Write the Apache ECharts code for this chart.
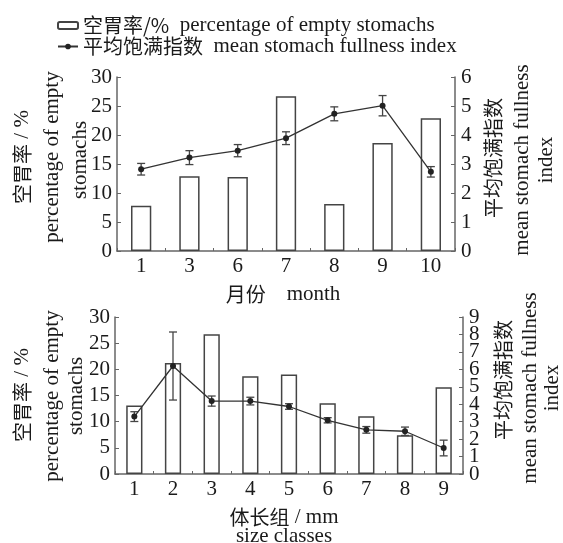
<!DOCTYPE html>
<html>
<head>
<meta charset="utf-8">
<script src="https://cdn.jsdelivr.net/npm/echarts@6/dist/echarts.min.js"></script>
<style>html,body{margin:0;padding:0;background:#fff;}#c{width:563px;height:543px;}</style>
</head>
<body>
<div id="c"></div>
<script>
const monthCats = ['1', '3', '6', '7', '8', '9', '10'];
const monthEmpty = [7.8, 12.9, 12.75, 26.7, 8.1, 18.6, 22.9];
const monthFull = [2.82, 3.22, 3.46, 3.89, 4.73, 5.01, 2.73];
const monthErr = [0.2, 0.24, 0.21, 0.22, 0.24, 0.35, 0.18];

const sizeCats = ['1', '2', '3', '4', '5', '6', '7', '8', '9'];
const sizeEmpty = [13.1, 21.2, 26.7, 18.7, 19.0, 13.5, 11.05, 7.4, 16.6];
const sizeFull = [3.29, 6.19, 4.18, 4.18, 3.87, 3.08, 2.53, 2.45, 1.49];
const sizeErr = [0.28, 1.95, 0.29, 0.22, 0.16, 0.15, 0.19, 0.24, 0.45];

const leftTicks = [0, 30, 5];
const rightTicksTop = [0, 6, 1];
const rightTicksBottom = [0, 9, 1];

const FONT = '"Liberation Serif", "Noto Sans CJK SC", serif';
const CJK = '"Noto Sans CJK SC", serif';
const AX = '#666';
const TXT = '#1a1a1a';
const nameEmpty = '空胃率/%||percentage of empty stomachs';
const nameFull = '平均饱满指数||mean stomach fullness index';

function xAx(gi, cats) {
  return {
    type: 'category', gridIndex: gi, data: cats,
    axisLine: { show: true, lineStyle: { color: AX, width: 1.5 } },
    axisTick: { show: true, inside: true, length: 3, alignWithLabel: false, lineStyle: { color: AX } },
    axisLabel: { fontFamily: FONT, fontSize: 21, color: TXT, margin: 5 },
    splitLine: { show: false }
  };
}
function yAx(gi, t, pos, parity) {
  const ax = {
    type: 'value', gridIndex: gi, position: pos, min: t[0], max: t[1], interval: t[2],
    axisLine: { show: true, lineStyle: { color: AX, width: 1.5 } },
    axisTick: { show: true, inside: true, length: 4, lineStyle: { color: AX } },
    axisLabel: {
      fontFamily: FONT, fontSize: 21, color: TXT, margin: pos === 'left' ? 5 : 6,
      showMinLabel: true, showMaxLabel: true, hideOverlap: false
    },
    splitLine: { show: false }
  };
  if (parity !== undefined) {
    ax.axisLabel.formatter = function (v) { return (v % 2 === parity) ? String(v) : ''; };
    if (parity === 1) {
      ax.axisLine = { show: false };
      ax.axisTick = { show: false };
    }
  }
  return ax;
}
function errSeries(xi, yi, means, errs) {
  return {
    type: 'custom', xAxisIndex: xi, yAxisIndex: yi, z: 4, silent: true,
    data: means.map((m, i) => [i, m, errs[i]]),
    encode: { x: 0, y: 1 },
    renderItem: function (params, api) {
      const i = api.value(0), m = api.value(1), e = api.value(2);
      const hi = api.coord([i, m + e]);
      const lo = api.coord([i, m - e]);
      const w = 4;
      const st = { stroke: '#444', lineWidth: 1.3 };
      return {
        type: 'group', children: [
          { type: 'line', shape: { x1: hi[0], y1: hi[1], x2: lo[0], y2: lo[1] }, style: st },
          { type: 'line', shape: { x1: hi[0] - w, y1: hi[1], x2: hi[0] + w, y2: hi[1] }, style: st },
          { type: 'line', shape: { x1: lo[0] - w, y1: lo[1], x2: lo[0] + w, y2: lo[1] }, style: st }
        ]
      };
    }
  };
}
function barSeries(xi, yi, data, name) {
  return {
    name: name, type: 'bar', xAxisIndex: xi, yAxisIndex: yi, data: data, barWidth: '42%',
    itemStyle: { color: '#fff', borderColor: '#444', borderWidth: 1.5 }, z: 2
  };
}
function lineSeries(xi, yi, data, name) {
  return {
    name: name, type: 'line', xAxisIndex: xi, yAxisIndex: yi, data: data,
    symbol: 'circle', symbolSize: 6,
    lineStyle: { color: '#333', width: 1.3 },
    itemStyle: { color: '#222' }, z: 5
  };
}
const richCN = { c: { fontFamily: CJK, fontSize: 20, color: TXT } };
function vText(x, y, txt) {
  return {
    type: 'text', x: x, y: y, rotation: Math.PI / 2,
    style: { text: txt, fontFamily: FONT, fontSize: 21, fill: TXT, align: 'center', verticalAlign: 'middle', rich: richCN }
  };
}
function hText(x, y, txt) {
  return {
    type: 'text', x: x, y: y,
    style: { text: txt, fontFamily: FONT, fontSize: 21, fill: TXT, align: 'center', verticalAlign: 'middle', rich: richCN }
  };
}

const chart = echarts.init(document.getElementById('c'), null, { renderer: 'canvas' });
chart.setOption({
  backgroundColor: '#fff',
  animation: false,
  legend: {
    orient: 'vertical', left: 52, top: 10, itemGap: 0, itemWidth: 20, itemHeight: 7,
    textStyle: { fontFamily: FONT, fontSize: 21, color: TXT, rich: richCN },
    formatter: function (n) { const p = n.split('||'); return '{c|' + p[0] + '}  ' + p[1]; },
    data: [nameEmpty, nameFull]
  },
  grid: [
    { left: 117, right: 108, top: 77, height: 174 },
    { left: 115, right: 100, top: 317, height: 157 }
  ],
  xAxis: [xAx(0, monthCats), xAx(1, sizeCats)],
  yAxis: [
    yAx(0, leftTicks, 'left'), yAx(0, rightTicksTop, 'right'),
    yAx(1, leftTicks, 'left'), yAx(1, rightTicksBottom, 'right', 0),
    yAx(1, rightTicksBottom, 'right', 1)
  ],
  series: [
    barSeries(0, 0, monthEmpty, nameEmpty),
    lineSeries(0, 1, monthFull, nameFull),
    errSeries(0, 1, monthFull, monthErr),
    barSeries(1, 2, sizeEmpty, nameEmpty),
    lineSeries(1, 3, sizeFull, nameFull),
    errSeries(1, 3, sizeFull, sizeErr)
  ],
  graphic: [
    vText(22, 157, '{c|空胃率} / %'),
    vText(52, 157, 'percentage of empty'),
    vText(80, 160, 'stomachs'),
    vText(493, 158, '{c|平均饱满指数}'),
    vText(522, 160, 'mean stomach fullness'),
    vText(546, 160, 'index'),
    hText(283, 294, '{c|月份}    month'),
    vText(22, 395, '{c|空胃率} / %'),
    vText(52, 396, 'percentage of empty'),
    vText(76, 396, 'stomachs'),
    vText(503, 380, '{c|平均饱满指数}'),
    vText(530, 388, 'mean stomach fullness'),
    vText(552, 388, 'index'),
    hText(284, 517, '{c|体长组} / mm'),
    hText(284, 536, 'size classes')
  ]
});
</script>
</body>
</html>
